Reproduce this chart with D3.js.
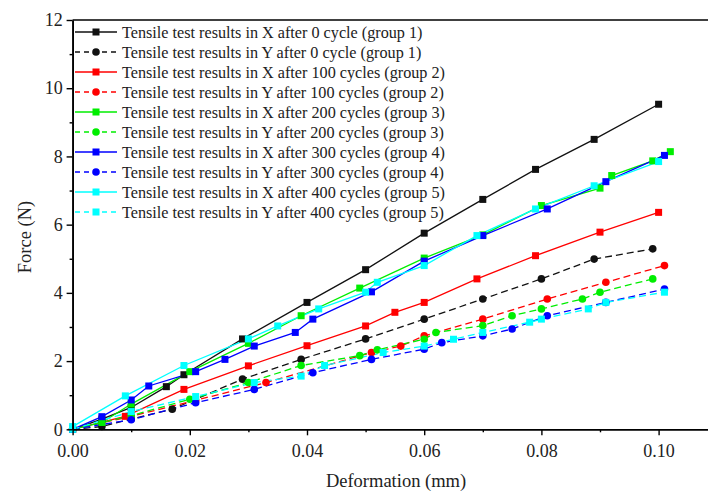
<!DOCTYPE html>
<html>
<head>
<meta charset="utf-8">
<script src="https://cdn.jsdelivr.net/npm/d3@7"></script>
<style>
  body { margin: 0; background: #fff; }
  svg { display: block; font-family: "Liberation Serif", "Times New Roman", serif; }
</style>
</head>
<body>
<div id="chart"></div>
<script>
// tensile test series, [deformation mm, force N]
const X_G1 = [[0,0],[0.005,0.3],[0.01,0.64],[0.016,1.25],[0.019,1.6],[0.029,2.65],[0.04,3.72],[0.05,4.68],[0.06,5.75],[0.07,6.74],[0.079,7.62],[0.089,8.5],[0.1,9.53]]
const Y_G1 = [[0,0],[0.005,0.08],[0.01,0.3],[0.017,0.59],[0.029,1.47],[0.039,2.05],[0.05,2.65],[0.06,3.23],[0.07,3.82],[0.08,4.41],[0.089,4.99],[0.099,5.29]]
const X_G2 = [[0,0],[0.009,0.38],[0.019,1.17],[0.03,1.86],[0.04,2.45],[0.05,3.03],[0.055,3.43],[0.06,3.72],[0.069,4.41],[0.079,5.09],[0.09,5.78],[0.1,6.36]]
const Y_G2 = [[0,0],[0.01,0.38],[0.021,0.85],[0.033,1.37],[0.051,2.25],[0.056,2.44],[0.06,2.74],[0.07,3.23],[0.081,3.82],[0.091,4.31],[0.101,4.8]]
const X_G3 = [[0,0],[0.005,0.2],[0.01,0.74],[0.02,1.69],[0.03,2.52],[0.039,3.33],[0.049,4.14],[0.06,5.02],[0.07,5.7],[0.08,6.56],[0.09,7.07],[0.092,7.44],[0.099,7.87],[0.102,8.14]]
const Y_G3 = [[0,0],[0.01,0.4],[0.02,0.88],[0.03,1.37],[0.039,1.87],[0.049,2.16],[0.052,2.33],[0.06,2.64],[0.062,2.84],[0.07,3.04],[0.075,3.33],[0.08,3.53],[0.087,3.82],[0.09,4.02],[0.099,4.41]]
const X_G4 = [[0,0],[0.005,0.37],[0.01,0.86],[0.013,1.27],[0.021,1.69],[0.026,2.05],[0.031,2.44],[0.038,2.84],[0.041,3.23],[0.051,4.03],[0.06,4.93],[0.07,5.68],[0.081,6.46],[0.091,7.26],[0.101,8.03]]
const Y_G4 = [[0,0],[0.01,0.28],[0.021,0.78],[0.031,1.17],[0.041,1.66],[0.051,2.05],[0.06,2.35],[0.063,2.54],[0.07,2.74],[0.075,2.94],[0.081,3.33],[0.091,3.72],[0.101,4.11]]
const X_G5 = [[0,0.08],[0.009,0.98],[0.019,1.87],[0.03,2.65],[0.035,3.03],[0.042,3.53],[0.05,4.02],[0.052,4.31],[0.06,4.8],[0.069,5.68],[0.079,6.46],[0.089,7.14],[0.1,7.85]]
const Y_G5 = [[0,0],[0.01,0.52],[0.021,0.96],[0.031,1.37],[0.039,1.56],[0.043,1.87],[0.053,2.25],[0.06,2.44],[0.065,2.64],[0.07,2.84],[0.078,3.14],[0.08,3.23],[0.088,3.53],[0.091,3.72],[0.101,4.02]]

const LABELS = [
  'Tensile test results in X after 0 cycle (group 1)',
  'Tensile test results in Y after 0 cycle (group 1)',
  'Tensile test results in X after 100 cycles (group 2)',
  'Tensile test results in Y after 100 cycles (group 2)',
  'Tensile test results in X after 200 cycles (group 3)',
  'Tensile test results in Y after 200 cycles (group 3)',
  'Tensile test results in X after 300 cycles (group 4)',
  'Tensile test results in Y after 300 cycles (group 4)',
  'Tensile test results in X after 400 cycles (group 5)',
  'Tensile test results in Y after 400 cycles (group 5)'
]
const COLORS = ['#111', '#111', '#ff0000', '#ff0000', '#00ee00', '#00ee00', '#0000ff', '#0000ff', '#00ffff', '#00ffff']
const SHAPES = ['square', 'circle', 'square', 'circle', 'square', 'circle', 'square', 'circle', 'square', 'square']
const DATA = [X_G1, Y_G1, X_G2, Y_G2, X_G3, Y_G3, X_G4, Y_G4, X_G5, Y_G5]

const X_TICKS = [0, 0.02, 0.04, 0.06, 0.08, 0.10]
const Y_TICKS = [0, 2, 4, 6, 8, 10, 12]

const W = 708, H = 491
const mLeft = 72.6, mTop = 20, mBottom = 429.3

const x = d3.scaleLinear().domain([0, 0.11]).range([mLeft, mLeft + 0.11 * 5860])
const y = d3.scaleLinear().domain([0, 12]).range([mBottom, mTop])

const svg = d3.select('#chart').append('svg')
  .attr('width', W)
  .attr('height', H)

// lines
const line = d3.line().x(d => x(d[0])).y(d => y(d[1]))

DATA.forEach((s, i) => {
  svg.append('path')
    .datum(s)
    .attr('d', line)
    .attr('fill', 'none')
    .attr('stroke', COLORS[i])
    .attr('stroke-width', 1.3)
    .attr('stroke-dasharray', i % 2 ? '7,4' : null)
})

const drawMarker = (g, shape, color, cx, cy) => {
  if (shape === 'circle') {
    g.append('circle').attr('cx', cx).attr('cy', cy).attr('r', 3.8).attr('fill', color)
  } else {
    g.append('rect').attr('x', cx - 3.5).attr('y', cy - 3.5).attr('width', 7).attr('height', 7).attr('fill', color)
  }
}

DATA.forEach((s, i) => {
  const g = svg.append('g')
  s.forEach(d => drawMarker(g, SHAPES[i], COLORS[i], x(d[0]), y(d[1])))
})

// axes
const xAxis = svg.append('g')
  .attr('transform', `translate(0,${mBottom})`)
  .call(d3.axisBottom(x).tickValues(X_TICKS).tickFormat(d3.format('.2f')).tickSize(6).tickSizeOuter(0))
svg.append('g')
  .attr('transform', `translate(0,${mBottom})`)
  .call(d3.axisBottom(x).tickValues([0.01, 0.03, 0.05, 0.07, 0.09]).tickFormat('').tickSize(3).tickSizeOuter(0))

const yAxis = svg.append('g')
  .attr('transform', `translate(${mLeft},0)`)
  .call(d3.axisLeft(y).tickValues(Y_TICKS).tickSize(6).tickSizeOuter(0))
svg.append('g')
  .attr('transform', `translate(${mLeft},0)`)
  .call(d3.axisLeft(y).tickValues([1, 3, 5, 7, 9, 11]).tickFormat('').tickSize(3).tickSizeOuter(0))

svg.selectAll('.domain').attr('stroke', '#000').attr('stroke-width', 1.6)
svg.selectAll('.tick line').attr('stroke', '#000').attr('stroke-width', 1.4)
svg.selectAll('.tick text')
  .attr('font-family', '"Liberation Serif", serif')
  .attr('font-size', 18)
  .attr('fill', '#222')
xAxis.selectAll('.tick text').attr('dy', '1.05em')
yAxis.selectAll('.tick text').attr('dx', '-0.05em')

// top frame
svg.append('line')
  .attr('x1', mLeft).attr('x2', W)
  .attr('y1', mTop).attr('y2', mTop)
  .attr('stroke', '#000').attr('stroke-width', 1.6)

// axis titles
svg.append('text')
  .attr('x', 396).attr('y', 487)
  .attr('text-anchor', 'middle')
  .attr('font-size', 18.5)
  .attr('fill', '#222')
  .text('Deformation (mm)')

svg.append('text')
  .attr('transform', 'translate(31,237) rotate(-90)')
  .attr('text-anchor', 'middle')
  .attr('font-size', 18.5)
  .attr('fill', '#222')
  .text('Force (N)')

// legend
const legend = svg.append('g')
LABELS.forEach((lab, i) => {
  const ly = 32 + i * 20
  legend.append('line')
    .attr('x1', 75).attr('x2', 117)
    .attr('y1', ly).attr('y2', ly)
    .attr('stroke', COLORS[i])
    .attr('stroke-width', 1.3)
    .attr('stroke-dasharray', i % 2 ? '5,4' : null)
  drawMarker(legend, SHAPES[i], COLORS[i], 96, ly)
  legend.append('text')
    .attr('x', 122).attr('y', ly + 5.5)
    .attr('font-size', 16.2)
    .attr('fill', '#222')
    .text(lab)
})
</script>
</body>
</html>
